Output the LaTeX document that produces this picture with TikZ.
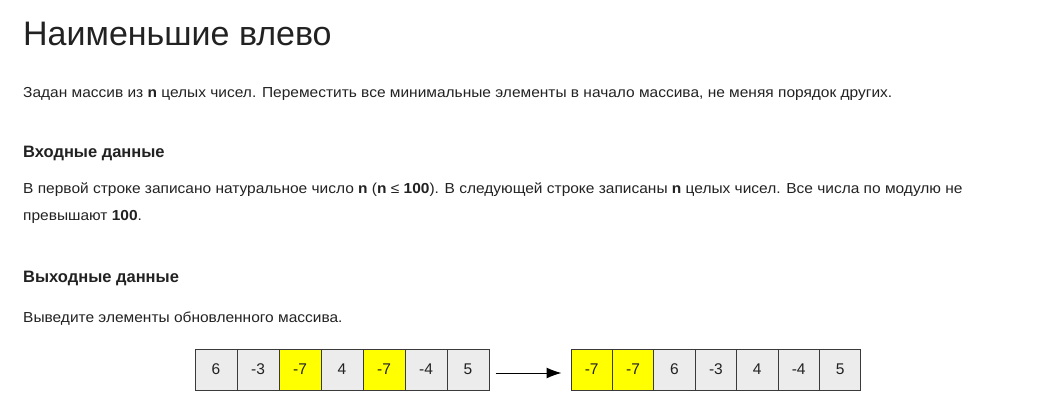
\documentclass[tikz,border=0pt]{standalone}
\usepackage{fontspec}
\setmainfont{Liberation Sans}
\newfontfamily\bodyfont{Liberation Sans}[FakeStretch=1.068]
\usetikzlibrary{arrows.meta}
\definecolor{txt}{HTML}{222222}
\definecolor{cellgray}{HTML}{ECECEC}
\definecolor{cellborder}{HTML}{3A3A3A}
\definecolor{hl}{HTML}{FFFF00}
\begin{document}
\begin{tikzpicture}[x=1pt,y=1pt,
  txtnode/.style={anchor=base west,inner sep=0pt,text=txt,font=\bodyfont\fontsize{14.5}{16}\selectfont},
  headnode/.style={anchor=base west,inner sep=0pt,text=txt,font=\fontsize{16.5}{19}\selectfont\bfseries},
  cell/.style={draw=cellborder,line width=1pt,fill=cellgray,minimum height=41pt,inner sep=0pt,
    font=\fontsize{15.5}{17}\selectfont,text=txt},
  lcell/.style={cell,minimum width=42pt},
  rcell/.style={cell,minimum width=41.4pt},
  yel/.style={fill=hl}]
\useasboundingbox[fill=white] (0,0) rectangle (1057,-404);
\node[anchor=base west,inner sep=0pt,text=txt,font=\fontsize{34}{40}\selectfont] (title) at (23,-46) {Наименьшие влево};
\node[txtnode] (p1) at (23,-97.3) {Задан массив из \textbf{n} целых чисел. Переместить все минимальные элементы в начало массива, не меняя порядок других.};
\node[headnode] (h1) at (23,-157.3) {Входные данные};
\node[txtnode] (p2) at (23,-193.3) {В первой строке записано натуральное число \textbf{n} (\textbf{n} ≤ \textbf{100}). В следующей строке записаны \textbf{n} целых чисел. Все числа по модулю не};
\node[txtnode] (p3) at (23,-220) {превышают \textbf{100}.};
\node[headnode] (h2) at (23,-282.7) {Выходные данные};
\node[txtnode] (p4) at (23,-322.3) {Выведите элементы обновленного массива.};
% left array
\node[lcell] (a1) at (216,-369.5) {6};
\node[lcell] (a2) at (258,-369.5) {-3};
\node[lcell,yel] (a3) at (300,-369.5) {-7};
\node[lcell] (a4) at (342,-369.5) {4};
\node[lcell,yel] (a5) at (384,-369.5) {-7};
\node[lcell] (a6) at (426,-369.5) {-4};
\node[lcell] (a7) at (468,-369.5) {5};
% right array
\node[rcell,yel] (b1) at (591.7,-369.5) {-7};
\node[rcell,yel] (b2) at (633.1,-369.5) {-7};
\node[rcell] (b3) at (674.5,-369.5) {6};
\node[rcell] (b4) at (715.9,-369.5) {-3};
\node[rcell] (b5) at (757.3,-369.5) {4};
\node[rcell] (b6) at (798.7,-369.5) {-4};
\node[rcell] (b7) at (840.1,-369.5) {5};
\draw[line width=1pt,-{Latex[length=15pt,width=11pt]}] ([xshift=6pt,yshift=-3.5pt]a7.east) -- ([xshift=-9pt,yshift=-3.5pt]b1.west);
\end{tikzpicture}
\end{document}
